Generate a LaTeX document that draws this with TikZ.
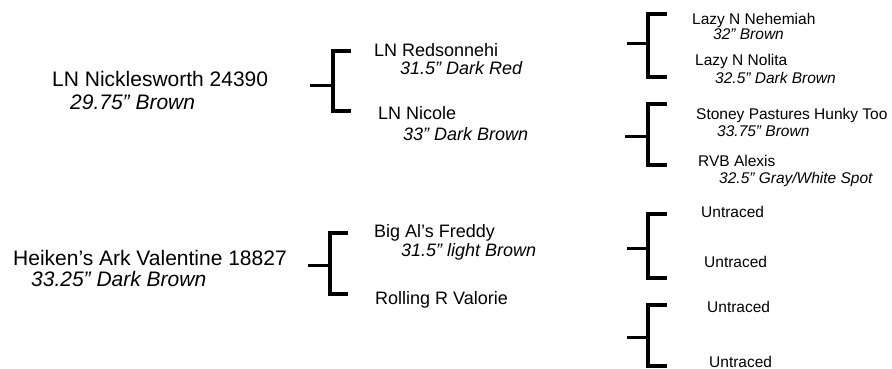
\documentclass[tikz,border=0pt]{standalone}
\usepackage{fontspec}
\setmainfont{Liberation Sans}
\usepackage{tikz}
\usetikzlibrary{positioning}
\newcommand{\inchmark}{\char34\relax}

\begin{document}
\begin{tikzpicture}[
  x=1pt,y=-1pt,
  gen0/.style={anchor=base west,inner sep=0pt,font=\fontsize{21}{24}\selectfont},
  gen1/.style={anchor=base west,inner sep=0pt,font=\fontsize{18}{21}\selectfont},
  gen2/.style={anchor=base west,inner sep=0pt,font=\fontsize{15.5}{18}\selectfont},
  brk/.style={line width=3.5pt,black},
  stub/.style={line width=3pt,black}
]
\useasboundingbox (0,0) rectangle (892,369);

% first generation
\node[gen0] (nick) at (52,86) {LN Nicklesworth 24390};
\node[gen0] (nickc) at (70,110) {\itshape 29.75\inchmark{} Brown};
\node[gen0] (heik) at (13,265) {Heiken’s Ark Valentine 18827};
\node[gen0] (heikc) at (31,286) {\itshape 33.25\inchmark{} Dark Brown};

% parents
\node[gen1] (redson) at (374,57) {LN Redsonnehi};
\node[gen1] (redsonc) at (400,75) {\itshape 31.5\inchmark{} Dark Red};
\node[gen1] (nicole) at (378,119) {LN Nicole};
\node[gen1] (nicolec) at (403,140) {\itshape 33\inchmark{} Dark Brown};
\node[gen1] (freddy) at (374,237) {Big Al’s Freddy};
\node[gen1] (freddyc) at (401,256) {\itshape 31.5\inchmark{} light Brown};
\node[gen1] (valorie) at (375,304) {Rolling R Valorie};

% grandparents
\node[gen2] (nehem) at (692,25) {Lazy N Nehemiah};
\node[gen2] (nehemc) at (713,40) {\itshape 32\inchmark{} Brown};
\node[gen2] (nolita) at (695,66) {Lazy N Nolita};
\node[gen2] (nolitac) at (715,84) {\itshape 32.5\inchmark{} Dark Brown};
\node[gen2] (stoney) at (696,119) {Stoney Pastures Hunky Too};
\node[gen2] (stoneyc) at (717,136) {\itshape 33.75\inchmark{} Brown};
\node[gen2] (alexis) at (698,166) {RVB Alexis};
\node[gen2] (alexisc) at (719,183) {\itshape 32.5\inchmark{} Gray/White Spot};
\node[gen2] (untr1) at (701,217) {Untraced};
\node[gen2] (untr2) at (704,267) {Untraced};
\node[gen2] (untr3) at (707,312) {Untraced};
\node[gen2] (untr4) at (709,367) {Untraced};

% brackets
\coordinate (s1) at (310,86);  \coordinate (j1) at (333,86);
\coordinate (t1) at (351,51);  \coordinate (u1) at (351,111);
\coordinate (s2) at (308,265); \coordinate (j2) at (330,265);
\coordinate (t2) at (348,233); \coordinate (u2) at (348,294);
\coordinate (s3) at (627,44);  \coordinate (j3) at (648,44);
\coordinate (t3) at (667,14);  \coordinate (u3) at (667,77);
\coordinate (s4) at (625,136); \coordinate (j4) at (648,136);
\coordinate (t4) at (667,104); \coordinate (u4) at (667,165);
\coordinate (s5) at (627,248); \coordinate (j5) at (648,248);
\coordinate (t5) at (667,214); \coordinate (u5) at (667,278);
\coordinate (s6) at (627,337); \coordinate (j6) at (648,337);
\coordinate (t6) at (667,305); \coordinate (u6) at (667,366);

\draw[brk] (t1) -| (j1) |- (u1);
\draw[stub] (s1) -- (j1);
\draw[brk] (t2) -| (j2) |- (u2);
\draw[stub] (s2) -- (j2);
\draw[brk] (t3) -| (j3) |- (u3);
\draw[stub] (s3) -- (j3);
\draw[brk] (t4) -| (j4) |- (u4);
\draw[stub] (s4) -- (j4);
\draw[brk] (t5) -| (j5) |- (u5);
\draw[stub] (s5) -- (j5);
\draw[brk] (t6) -| (j6) |- (u6);
\draw[stub] (s6) -- (j6);
\end{tikzpicture}
\end{document}
